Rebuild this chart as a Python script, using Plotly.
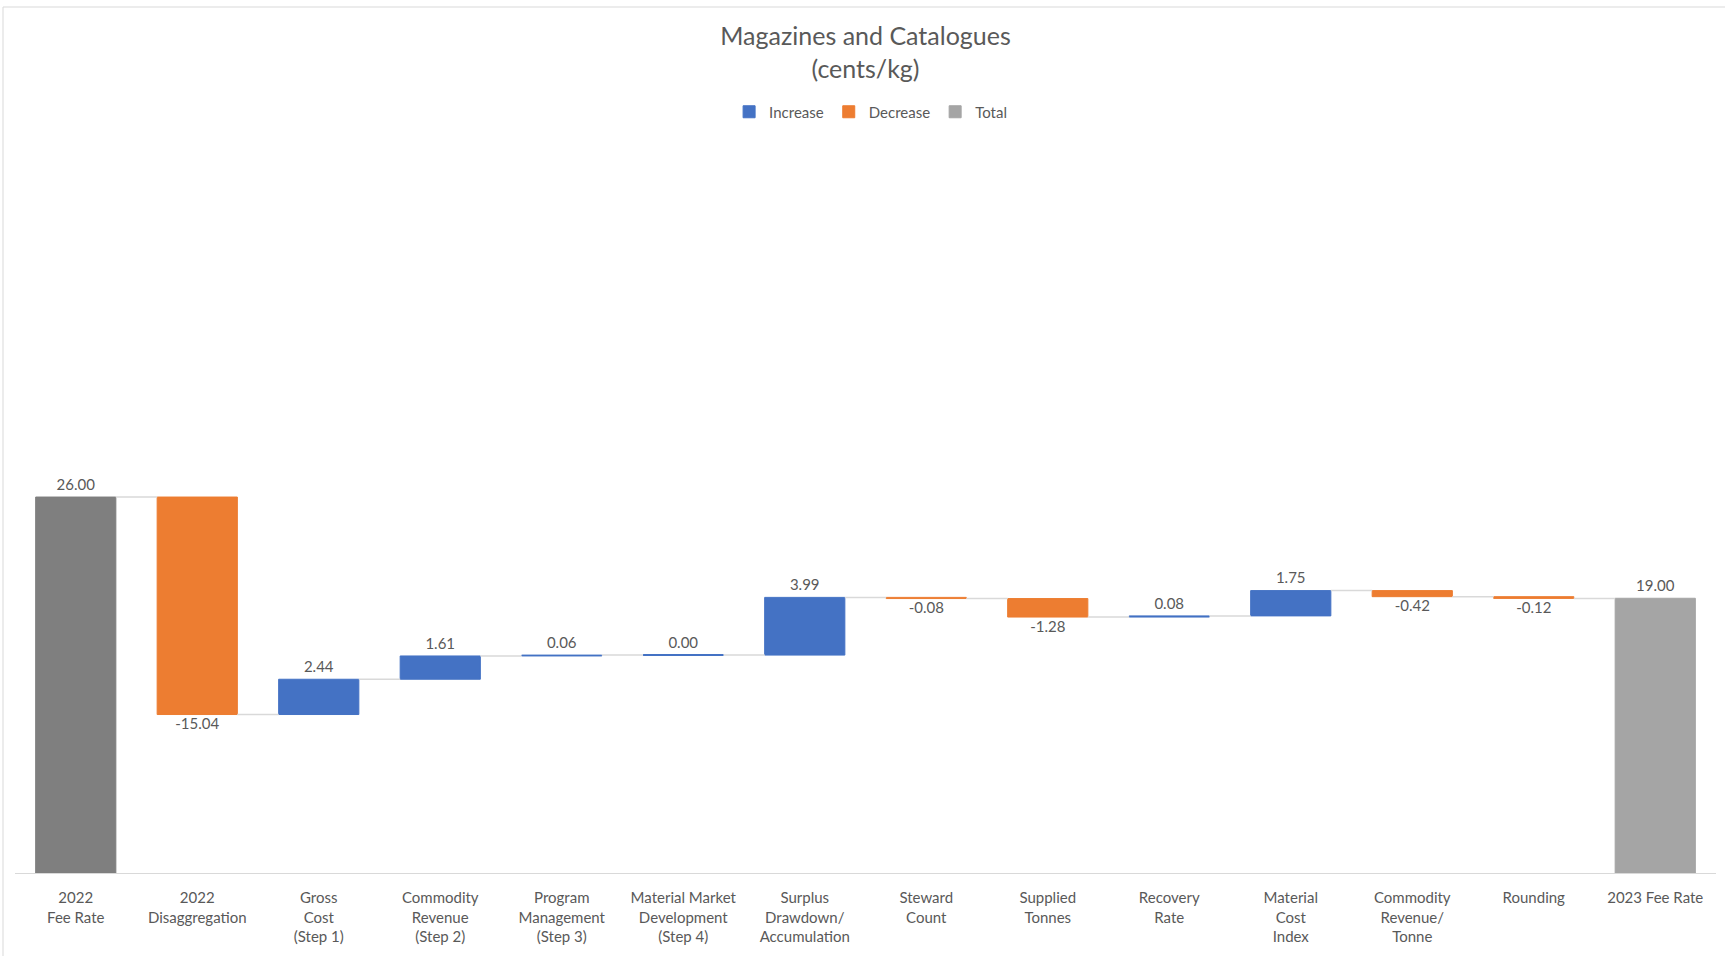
import plotly.graph_objects as go

categories = [
    "2022<br>Fee Rate", "2022<br>Disaggregation", "Gross<br>Cost<br>(Step 1)",
    "Commodity<br>Revenue<br>(Step 2)", "Program<br>Management<br>(Step 3)",
    "Material Market<br>Development<br>(Step 4)", "Surplus<br>Drawdown/<br>Accumulation",
    "Steward<br>Count", "Supplied<br>Tonnes", "Recovery<br>Rate", "Material<br>Cost<br>Index",
    "Commodity<br>Revenue/<br>Tonne", "Rounding", "2023 Fee Rate",
]
values = [26.00, -15.04, 2.44, 1.61, 0.06, 0.00, 3.99, -0.08, -1.28, 0.08, 1.75, -0.42, -0.12, 19.00]
measures = ["total", "relative", "relative", "relative", "relative", "relative", "relative",
            "relative", "relative", "relative", "relative", "relative", "relative", "total"]

BLUE, ORANGE = "#4472C4", "#ED7D31"
GRAY_DARK, GRAY_LIGHT = "#7F7F7F", "#A5A5A5"
TXT = "#595959"
FONT = "Lato"
W = 0.66

# compute waterfall geometry
bases, ends = [], []
level = 0.0
for v, m in zip(values, measures):
    if m == "total":
        bases.append(0.0)
        level = v
    else:
        bases.append(level)
        level = level + v
    ends.append(level)

xs = list(range(len(categories)))
inc = [i for i in xs if measures[i] == "relative" and values[i] >= 0]
dec = [i for i in xs if measures[i] == "relative" and values[i] < 0]
tot = [i for i in xs if measures[i] == "total"]

fig = go.Figure()

# connectors
cx, cy = [], []
for i in xs[:-1]:
    cx += [i + W / 2, i + 1 - W / 2, None]
    cy += [ends[i], ends[i], None]
fig.add_trace(go.Scatter(x=cx, y=cy, mode="lines", line=dict(color="#D9D9D9", width=1.5),
                         showlegend=False, hoverinfo="skip"))

def add_bars(idx, name, color, showlegend=True):
    fig.add_trace(go.Bar(
        x=idx, y=[values[i] for i in idx],
        base=[bases[i] for i in idx], width=W, name=name,
        marker=dict(color=color, line=dict(color=color, width=1)),
        showlegend=showlegend, hoverinfo="skip", legendgroup=name,
    ))

add_bars(inc, "Increase", BLUE)
add_bars(dec, "Decrease", ORANGE)
add_bars([tot[0]], "Total", GRAY_DARK, showlegend=False)
add_bars([tot[1]], "Total", GRAY_LIGHT, showlegend=True)

# zero-height bars: draw thin line so they remain visible
zx, zy = [], []
for i in inc:
    if values[i] == 0:
        zx += [i - W / 2, i + W / 2, None]
        zy += [ends[i], ends[i], None]
if zx:
    fig.add_trace(go.Scatter(x=zx, y=zy, mode="lines", line=dict(color=BLUE, width=2),
                             showlegend=False, hoverinfo="skip"))

# data labels
fig.add_trace(go.Scatter(
    x=xs, y=ends, mode="markers+text",
    text=[f"{v:.2f}" for v in values],
    textposition=["bottom center" if (measures[i] == "relative" and values[i] < 0) else "top center" for i in xs],
    textfont=dict(family=FONT, size=15, color=TXT),
    marker=dict(size=4, color="rgba(0,0,0,0)"), showlegend=False, hoverinfo="skip", cliponaxis=False,
))

fig.update_layout(
    width=1725, height=956,
    margin=dict(l=15, r=9, t=150, b=83),
    paper_bgcolor="white", plot_bgcolor="white",
    barmode="overlay",
    font=dict(family=FONT, color=TXT),
    title=dict(text="Magazines and Catalogues<br>(cents/kg)", x=0.5, xref="paper",
               y=1 - 45 / 956, yref="container", yanchor="middle", xanchor="center",
               font=dict(family=FONT, size=25, color=TXT)),
    legend=dict(orientation="h", x=0.503, xanchor="center", y=1 - 112 / 956, yref="container",
                yanchor="middle", font=dict(family=FONT, size=15, color=TXT),
                traceorder="normal", itemclick=False),
    xaxis=dict(tickmode="array", tickvals=xs, ticktext=categories, range=[-0.5, len(xs) - 0.5],
               showline=True, linecolor="#D9D9D9", linewidth=1, showgrid=False, zeroline=False,
               ticks="", tickfont=dict(family=FONT, size=15, color=TXT), ticklabelstandoff=11),
    yaxis=dict(range=[0, 50], visible=False, showgrid=False, zeroline=False),
    shapes=[dict(type="rect", xref="paper", yref="paper",
                 x0=(3 - 15) / 1701, x1=(1740 - 15) / 1701,
                 y0=(873 - 970) / 723, y1=(873 - 7) / 723,
                 line=dict(color="#D9D9D9", width=1), fillcolor="rgba(0,0,0,0)", layer="below")],
)

fig.write_html("out.html", config={"displayModeBar": False},
               post_script="document.body.style.margin='0';document.body.style.overflow='hidden';")
